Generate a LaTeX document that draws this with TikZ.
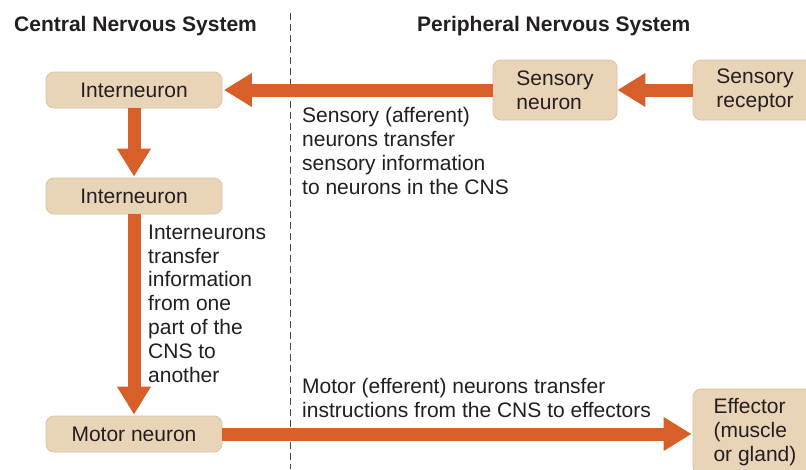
\documentclass[tikz,border=0pt]{standalone}
\usepackage{fontspec}
\setmainfont{Liberation Sans}
\usetikzlibrary{arrows.meta}
\definecolor{boxfill}{HTML}{E9D4B8}
\definecolor{boxline}{HTML}{DCC3A3}
\definecolor{arrowc}{HTML}{D65F2A}
\definecolor{txt}{HTML}{231F20}
\definecolor{dashc}{HTML}{4A4A4A}
\tikzset{
  nbox/.style={draw=boxline, fill=boxfill, line width=0.8pt, rounded corners=8pt,
    inner sep=0pt, align=left, text=txt, font=\fontsize{21}{24}\selectfont},
  flow/.style={draw=arrowc, line width=13pt, -{Triangle[length=28pt,width=32pt]}},
  note/.style={inner sep=0pt, align=left, text=txt, anchor=base west,
    font=\fontsize{21}{23.8}\selectfont},
  head/.style={inner sep=0pt, anchor=base west, text=txt, font=\fontsize{21}{24}\selectfont\bfseries},
}
\begin{document}
\begin{tikzpicture}[x=1pt,y=-1pt]
\useasboundingbox (0,0) rectangle (806,469);
\clip (0,0) rectangle (806,469);
\fill[white] (0,0) rectangle (806,469);

% divider
\coordinate (dtop) at (290,13);
\coordinate (dbot) at (290,469);
\draw[dashc, line width=1pt, dash pattern=on 7pt off 4pt] (dtop) -- (dbot);

% headings
\node[head] (hcns) at (14,31) {Central Nervous System};
\node[head] (hpns) at (417,31) {Peripheral Nervous System};

% boxes
\node[nbox, minimum width=176pt, minimum height=36pt] (in1) at (134,90) {Interneuron};
\node[nbox, minimum width=176pt, minimum height=36pt] (in2) at (134,196) {Interneuron};
\node[nbox, minimum width=176pt, minimum height=36pt] (mot) at (134,434) {Motor neuron};
\node[nbox, minimum width=124pt, minimum height=60pt] (sn) at (555,90) {Sensory\\neuron};
\node[nbox, minimum width=124pt, minimum height=60pt] (sr) at (755,90) {Sensory\\receptor};
\node[nbox, minimum width=124pt, minimum height=86pt] (eff) at (755,432) {Effector\\(muscle\\or gland)};

% arrows
\draw[flow] (sr.west) -- (sn.east);
\draw[flow, shorten >=1.5pt] (sn.west) -- (sn.west -| in1.east);
\draw[flow, shorten >=1pt] (in1.south) -- (in2.north);
\draw[flow, shorten >=1pt] (in2.south) -- (mot.north);
\draw[flow, shorten >=1pt] (mot.east) -- (mot.east -| eff.west);

% notes (base anchor = last line's baseline)
\node[note] (tsens) at (302,194) {Sensory (afferent)\\neurons transfer\\sensory information\\to neurons in the CNS};
\node[note] (tint) at (148,382) {Interneurons\\transfer\\information\\from one\\part of the\\CNS to\\another};
\node[note] (tmot) at (302,417) {Motor (efferent) neurons transfer\\instructions from the CNS to effectors};
\end{tikzpicture}
\end{document}
